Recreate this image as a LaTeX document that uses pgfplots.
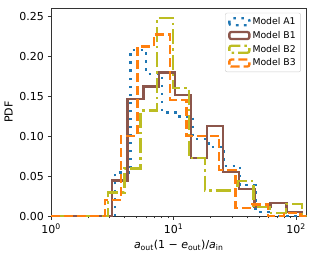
\documentclass[border=0pt]{standalone}
\usepackage{fontspec}
\setmainfont{DejaVu Sans}
\usepackage{pgfplots}
\pgfplotsset{compat=1.18}
\definecolor{cA}{RGB}{31,119,180}
\definecolor{cB}{RGB}{140,86,75}
\definecolor{cC}{RGB}{188,189,34}
\definecolor{cD}{RGB}{255,127,14}
\begin{document}
\begin{tikzpicture}
\begin{axis}[
  scale only axis,
  width=255.5pt, height=208.5pt,
  xmode=log,
  xmin=1, xmax=121.8,
  ymin=0, ymax=0.2606,
  axis line style={line width=0.8pt, black!80},
  tick align=outside,
  xtick pos=bottom, ytick pos=left,
  major tick length=3.5pt, minor tick length=2pt,
  every tick/.style={black!80, line width=0.7pt},
  xtick={1,10,100},
  xticklabels={10\textsuperscript{0},10\textsuperscript{1},10\textsuperscript{2}},
  ytick={0,0.05,0.10,0.15,0.20,0.25},
  /pgf/number format/assume math mode=true,
  yticklabel style={/pgf/number format/.cd, fixed, fixed zerofill, precision=2},
  tick label style={font=\fontsize{11}{13}\selectfont},
  label style={font=\fontsize{11}{13}\selectfont},
  xlabel={\textit{a}\textsubscript{out}(1 − \textit{e}\textsubscript{out})/\textit{a}\textsubscript{in}},
  ylabel={PDF},
  legend style={at={(rel axis cs:0.978,0.977)}, anchor=north east,
    font=\fontsize{9.3}{10.5}\selectfont, draw=black!20, rounded corners=2pt,
    fill=white, fill opacity=0.8, text opacity=1, row sep=1.2pt,
    inner xsep=3pt, inner ysep=2.5pt},
  legend cell align=left,
  legend image code/.code={\draw[#1] (0pt,-3.5pt) rectangle (20pt,3.5pt);},
  every axis plot/.append style={line width=2.3pt, const plot},
]
% Model A1
\addplot[cA, dash pattern=on 2.6pt off 5.4pt] coordinates {
(1,0) (3.330,0.055) (4.465,0.208) (5.985,0.178) (8.026,0.130) (10.76,0.125)
(14.43,0.097) (19.34,0.087) (25.94,0.063) (34.77,0.039) (46.64,0.006) (62.51,0) (121.8,0)};
\addlegendentry{Model A1}
% Model B1
\addplot[cB] coordinates {
(1,0) (3.130,0.045) (4.218,0.147) (5.686,0.1625) (7.663,0.180) (10.33,0.152)
(13.92,0.073) (18.76,0.113) (25.29,0.056) (34.09,0.034) (45.94,0.0117)
(61.92,0.017) (83.47,0.0054) (112.5,0) (121.8,0)};
\addlegendentry{Model B1}
% Model B2
\addplot[cC, dash pattern=on 15pt off 4pt on 2.5pt off 4pt] coordinates {
(1,0) (2.936,0.030) (3.978,0.060) (5.386,0.1325) (7.296,0.248) (9.883,0.161)
(13.39,0.073) (18.13,0.0325) (24.55,0.0325) (33.25,0.044) (45.05,0.012)
(61.01,0.004) (82.64,0.016) (111.9,0) (121.8,0)};
\addlegendentry{Model B2}
% Model B3
\addplot[cD, dash pattern=on 9pt off 4pt] coordinates {
(1,0) (2.759,0.021) (3.749,0.101) (5.092,0.2125) (6.918,0.2275) (9.399,0.146)
(12.77,0.101) (17.35,0.101) (23.56,0.058) (32.01,0.011) (43.49,0.015)
(59.08,0) (80.26,0.0046) (109.0,0) (121.8,0)};
\addlegendentry{Model B3}
\end{axis}
\pgfresetboundingbox
\path[use as bounding box] (-51pt,-36.5pt) rectangle (264pt,216.5pt);
\end{tikzpicture}
\end{document}
